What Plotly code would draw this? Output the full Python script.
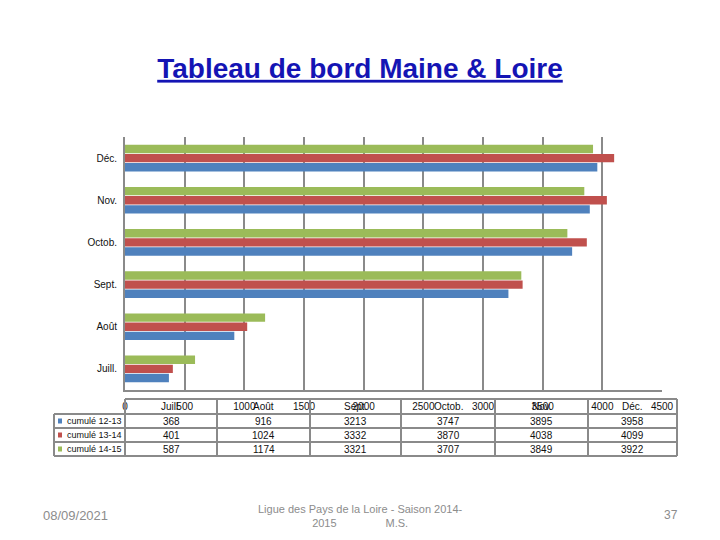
import plotly.graph_objects as go

categories = ["Juill.", "Août", "Sept.", "Octob.", "Nov.", "Déc."]
series_names = ["cumulé 12-13", "cumulé 13-14", "cumulé 14-15"]
values_12_13 = [368, 916, 3213, 3747, 3895, 3958]
values_13_14 = [401, 1024, 3332, 3870, 4038, 4099]
values_14_15 = [587, 1174, 3321, 3707, 3849, 3922]
x_ticks = [0, 500, 1000, 1500, 2000, 2500, 3000, 3500, 4000, 4500]

series_values = [values_12_13, values_13_14, values_14_15]
colors = ["#4F81BD", "#C0504D", "#9BBB59"]

W, H = 720, 540
def px(x):
    return x / W
def py(y):
    return 1 - y / H

SMALL_FONT = "Liberation Sans Narrow, Liberation Sans, Arial"
GRID = "#8a8a8a"

fig = go.Figure()
for name, vals, col in zip(series_names, series_values, colors):
    fig.add_trace(go.Bar(
        y=categories, x=vals, name=name, orientation="h",
        marker=dict(color=col, line=dict(width=0)),
        showlegend=False, hoverinfo="x+name",
    ))

shapes = []
annotations = []

# table geometry
col_edges = [125, 217, 310, 401, 495, 588, 677]
row_edges = [399, 414, 428, 442, 456]
left_edge = 54

def hline(y, x0, x1):
    shapes.append(dict(type="line", xref="paper", yref="paper",
                       x0=px(x0), x1=px(x1), y0=py(y), y1=py(y),
                       line=dict(color=GRID, width=2)))

def vline(x, y0, y1):
    shapes.append(dict(type="line", xref="paper", yref="paper",
                       x0=px(x), x1=px(x), y0=py(y0), y1=py(y1),
                       line=dict(color=GRID, width=2)))

hline(row_edges[0], col_edges[0], col_edges[-1])
for y in row_edges[1:]:
    hline(y, left_edge, col_edges[-1])
for x in col_edges:
    vline(x, row_edges[0], row_edges[-1])
vline(left_edge, row_edges[1], row_edges[-1])

# header category labels
for j, cat in enumerate(categories):
    cx = (col_edges[j] + col_edges[j + 1]) / 2
    annotations.append(dict(xref="paper", yref="paper", x=px(cx), y=py(406.5),
                            text=cat, showarrow=False, xanchor="center", yanchor="middle",
                            font=dict(family=SMALL_FONT, size=10, color="#111111")))

# data rows
for i, (name, vals, col) in enumerate(zip(series_names, series_values, colors)):
    yc = (row_edges[i + 1] + row_edges[i + 2]) / 2
    shapes.append(dict(type="rect", xref="paper", yref="paper",
                       x0=px(58), x1=px(62), y0=py(yc + 2.5), y1=py(yc - 2.5),
                       fillcolor=col, line=dict(width=0)))
    annotations.append(dict(xref="paper", yref="paper", x=px(65), y=py(yc),
                            text=name, showarrow=False, xanchor="left", yanchor="middle",
                            font=dict(family=SMALL_FONT, size=9, color="#111111")))
    for j, v in enumerate(vals):
        cx = (col_edges[j] + col_edges[j + 1]) / 2
        annotations.append(dict(xref="paper", yref="paper", x=px(cx), y=py(yc),
                                text=str(v), showarrow=False, xanchor="center", yanchor="middle",
                                font=dict(family=SMALL_FONT, size=10, color="#111111")))

# footer
foot_font = dict(family=SMALL_FONT, size=11, color="#8c8c8c")
annotations.append(dict(xref="paper", yref="paper", x=px(75), y=py(515), text="08/09/2021",
                        showarrow=False, xanchor="center", yanchor="middle",
                        font=dict(family=SMALL_FONT, size=13, color="#8c8c8c")))
annotations.append(dict(xref="paper", yref="paper", x=px(360), y=py(516),
                        text="Ligue des Pays de la Loire - Saison 2014-<br>2015                M.S.",
                        showarrow=False, xanchor="center", yanchor="middle", font=foot_font))
annotations.append(dict(xref="paper", yref="paper", x=px(671), y=py(515), text="37",
                        showarrow=False, xanchor="center", yanchor="middle",
                        font=dict(family=SMALL_FONT, size=12, color="#8c8c8c")))

fig.update_layout(
    template="none",
    width=W, height=H, autosize=False,
    margin=dict(l=0, r=0, t=0, b=0, pad=0, autoexpand=False),
    paper_bgcolor="white", plot_bgcolor="white",
    barmode="group", bargap=0.35, bargroupgap=0.08,
    title=dict(text="Tableau de bord Maine & Loire", x=px(360), xanchor="center", xref="paper",
               y=py(68), yanchor="middle", yref="paper",
               font=dict(family="Liberation Sans, Arial", size=28, color="#1414B4",
                         weight="bold", lineposition="under")),
    xaxis=dict(domain=[px(125), px(662)], range=[0, 4500], tickvals=x_ticks,
               ticktext=[str(t) for t in x_ticks], automargin=False,
               showgrid=True, gridcolor=GRID, gridwidth=2, zeroline=False,
               showline=True, linecolor=GRID, linewidth=2, ticks="",
               ticklabelstandoff=6,
               tickfont=dict(family=SMALL_FONT, size=10, color="#111111")),
    yaxis=dict(domain=[py(390), py(137)], categoryorder="array", categoryarray=categories,
               automargin=False,
               showgrid=False, zeroline=False, showline=True, linecolor=GRID, linewidth=2,
               ticks="", ticklabelstandoff=4,
               tickfont=dict(family=SMALL_FONT, size=10, color="#111111")),
    shapes=shapes, annotations=annotations,
)

fig.write_html("out.html", config={"displayModeBar": False, "responsive": False},
               post_script="document.body.style.margin='0';document.body.style.overflow='hidden';")
